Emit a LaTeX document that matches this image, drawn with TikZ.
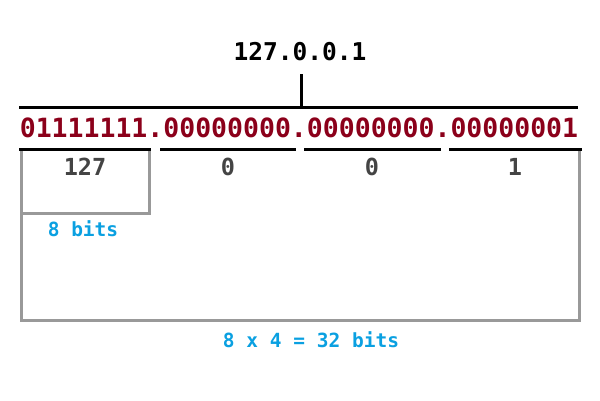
\documentclass[tikz,border=0pt]{standalone}
\usepackage{fontspec}
\setmonofont{DejaVu Sans Mono}
\definecolor{binred}{RGB}{139,0,26}
\definecolor{bitblue}{RGB}{10,160,225}
\definecolor{boxgray}{RGB}{153,153,153}
\definecolor{labgray}{RGB}{68,68,68}
\begin{document}
\begin{tikzpicture}[x=1pt,y=-1pt,
  txt/.style={inner sep=0pt,font=\ttfamily\bfseries},
  blackline/.style={line width=3pt,black},
  grayline/.style={line width=3pt,boxgray},
  seglab/.style={txt,text=labgray,font=\ttfamily\bfseries\fontsize{23.5}{26}\selectfont},
  bitlab/.style={txt,text=bitblue,font=\ttfamily\bfseries\fontsize{19.5}{22}\selectfont}]
\useasboundingbox (0,0) rectangle (600,400);
\node[txt,font=\ttfamily\bfseries\fontsize{24.5}{27}\selectfont] (ip) at (300,52) {127.0.0.1};
\node[txt,text=binred,font=\ttfamily\bfseries\fontsize{26.5}{29}\selectfont] (bin) at (299,128) {01111111.00000000.00000000.00000001};
\coordinate (vt) at (301,74);
\coordinate (vb) at (301,107);
\coordinate (hl) at (19,107);
\coordinate (hr) at (578,107);
\draw[blackline] (vt) -- (vb);
\draw[blackline] (hl) -- (hr);
% segment underlines
\coordinate (s1a) at (19,149);  \coordinate (s1b) at (151,149);
\coordinate (s2a) at (160,149); \coordinate (s2b) at (296,149);
\coordinate (s3a) at (304,149); \coordinate (s3b) at (441,149);
\coordinate (s4a) at (449,149); \coordinate (s4b) at (582,149);
% boxes
\coordinate (ob1) at (21,151); \coordinate (ob2) at (579,320);
\coordinate (ib1) at (21,151); \coordinate (ib2) at (149,213);
\draw[grayline] (ob1) -- (21,320) -- (579,320) -- (579,151);
\draw[grayline] (149,151) -- (149,213) -- (21,213);
\draw[blackline] (s1a) -- (s1b);
\draw[blackline] (s2a) -- (s2b);
\draw[blackline] (s3a) -- (s3b);
\draw[blackline] (s4a) -- (s4b);
\node[seglab] (l1) at (85,167) {127};
\node[seglab] (l2) at (228,167) {0};
\node[seglab] (l3) at (372,167) {0};
\node[seglab] (l4) at (515,167) {1};
\node[bitlab] (b8) at (83,229) {8 bits};
\node[bitlab] (b32) at (311,340) {8 x 4 = 32 bits};
\end{tikzpicture}
\end{document}
